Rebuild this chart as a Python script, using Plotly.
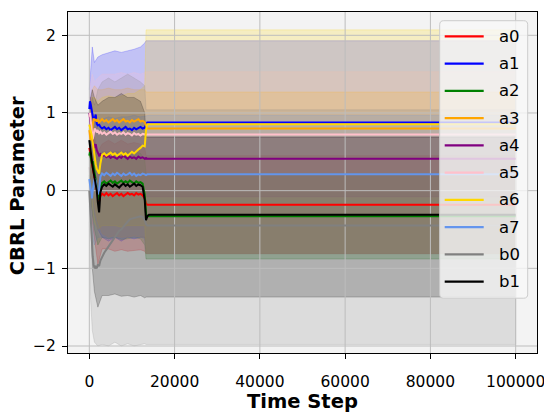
import plotly.graph_objects as go

# ---- data -------------------------------------------------------------
SERIES = ["a0", "a1", "a2", "a3", "a4", "a5", "a6", "a7", "b0", "b1"]
COLORS = ["#ff0000", "#0000ff", "#008000", "#ffa500", "#800080",
          "#ffc0cb", "#ffd700", "#6495ed", "#808080", "#000000"]

STEPS = [0, 150, 300, 450, 600, 800, 1000, 1250, 1500, 1750,
         2000, 2300, 2600, 3000, 3500, 4000, 4500, 5000, 5500, 6000,
         6500, 7000, 7500, 8000, 8500, 9000, 9500, 10000, 10500, 11000,
         11500, 12000, 12500, 13000, 13300, 13600, 14000, 100000]

A0_MEAN = [0.55, 0.50, 0.42, 0.38, 0.33, 0.28, 0.20, 0.16, 0.08, 0.02,
           -0.08, -0.14, -0.07, -0.04, -0.06, -0.03, -0.06, -0.04, -0.07, -0.05,
           -0.03, -0.06, -0.04, -0.07, -0.05, -0.03, -0.05, -0.04, -0.06, -0.03,
           -0.05, -0.04, -0.06, -0.10, -0.17, -0.18, -0.18, -0.18]
A1_MEAN = [1.05, 1.15, 1.12, 1.06, 1.00, 0.95, 0.90, 0.93, 0.98, 0.86,
           0.84, 0.85, 0.82, 0.80, 0.82, 0.79, 0.81, 0.78, 0.80, 0.82,
           0.79, 0.81, 0.78, 0.80, 0.82, 0.79, 0.80, 0.78, 0.81, 0.79,
           0.80, 0.82, 0.80, 0.81, 0.85, 0.878, 0.878, 0.878]
A2_MEAN = [0.45, 0.50, 0.44, 0.38, 0.35, 0.38, 0.30, 0.22, 0.12, 0.05,
           -0.04, -0.12, 0.04, 0.10, 0.12, 0.09, 0.11, 0.13, 0.10, 0.12,
           0.09, 0.11, 0.13, 0.10, 0.12, 0.10, 0.13, 0.11, 0.09, 0.12,
           0.10, 0.11, 0.09, -0.05, -0.30, -0.33, -0.33, -0.33]
A3_MEAN = [0.78, 0.70, 0.64, 0.68, 0.74, 0.86, 0.93, 0.90, 0.92, 0.89,
           0.91, 0.88, 0.90, 0.92, 0.89, 0.91, 0.88, 0.90, 0.92, 0.89,
           0.91, 0.88, 0.90, 0.92, 0.89, 0.90, 0.88, 0.91, 0.89, 0.90,
           0.92, 0.89, 0.90, 0.88, 0.83, 0.80, 0.80, 0.80]
A4_MEAN = [1.00, 0.95, 0.88, 0.78, 0.70, 0.62, 0.58, 0.55, 0.60, 0.52,
           0.48, 0.45, 0.47, 0.44, 0.46, 0.43, 0.45, 0.42, 0.44, 0.43,
           0.41, 0.44, 0.42, 0.45, 0.43, 0.41, 0.44, 0.42, 0.43, 0.41,
           0.44, 0.42, 0.43, 0.41, 0.42, 0.41, 0.41, 0.41]
A5_MEAN = [0.95, 1.00, 0.92, 0.85, 0.78, 0.66, 0.72, 0.80, 0.78, 0.75,
           0.77, 0.74, 0.76, 0.73, 0.75, 0.72, 0.74, 0.76, 0.73, 0.75,
           0.72, 0.74, 0.73, 0.75, 0.72, 0.74, 0.73, 0.71, 0.74, 0.72,
           0.73, 0.71, 0.73, 0.72, 0.72, 0.723, 0.723, 0.723]
A6_MEAN = [0.85, 0.82, 0.78, 0.74, 0.70, 0.62, 0.52, 0.43, 0.34, 0.28,
           0.25, 0.22, 0.35, 0.46, 0.48, 0.45, 0.47, 0.49, 0.46, 0.48,
           0.45, 0.47, 0.49, 0.46, 0.48, 0.45, 0.47, 0.50, 0.48, 0.51,
           0.53, 0.55, 0.58, 0.57, 0.78, 0.855, 0.855, 0.855]
A7_MEAN = [0.15, 0.10, 0.04, -0.05, -0.10, 0.00, 0.10, 0.16, 0.12, 0.05,
           -0.05, 0.00, 0.18, 0.22, 0.20, 0.23, 0.21, 0.19, 0.22, 0.20,
           0.23, 0.21, 0.19, 0.22, 0.20, 0.21, 0.23, 0.20, 0.22, 0.19,
           0.21, 0.20, 0.22, 0.21, 0.20, 0.21, 0.21, 0.21]
B0_MEAN = [0.00, -0.20, -0.40, -0.55, -0.70, -0.85, -0.95, -1.00, -0.98, -1.00,
           -0.95, -0.97, -0.90, -0.85, -0.80, -0.76, -0.72, -0.68, -0.64, -0.60,
           -0.57, -0.52, -0.50, -0.46, -0.43, -0.40, -0.37, -0.36, -0.35, -0.34,
           -0.34, -0.33, -0.34, -0.38, -0.43, -0.45, -0.45, -0.45]
B1_MEAN = [0.65, 0.56, 0.47, 0.42, 0.38, 0.30, 0.24, 0.16, 0.10, 0.00,
           -0.15, -0.28, -0.02, 0.05, 0.08, 0.06, 0.09, 0.07, 0.05, 0.08,
           0.06, 0.04, 0.07, 0.09, 0.06, 0.08, 0.05, 0.07, 0.09, 0.06,
           0.08, 0.07, 0.05, -0.12, -0.38, -0.33, -0.31, -0.31]

# spread bands (lower / upper bound) on a coarser step grid
BAND_STEPS = [0, 300, 700, 1200, 2000, 3000, 4500, 6000, 7500, 9000,
              10500, 12000, 13000, 13300, 14000, 100000]

A0_HI = [0.80, 0.90, 0.90, 0.70, 0.50, 0.60, 0.65, 0.60, 0.65, 0.60, 0.62, 0.60, 0.55, 0.45, 0.45, 0.45]
A0_LO = [0.30, 0.00, -0.40, -0.60, -0.95, -0.75, -0.75, -0.78, -0.76, -0.78, -0.77, -0.76, -0.78, -0.81, -0.81, -0.81]
A1_HI = [1.30, 1.60, 1.85, 1.65, 1.72, 1.75, 1.78, 1.80, 1.78, 1.80, 1.82, 1.85, 1.90, 1.93, 1.93, 1.93]
A1_LO = [0.80, 0.40, 0.00, -0.30, -0.50, -0.60, -0.65, -0.60, -0.65, -0.60, -0.62, -0.60, -0.60, -0.81, -0.81, -0.81]
A2_HI = [0.70, 0.80, 0.75, 0.60, 0.40, 0.50, 0.50, 0.50, 0.50, 0.50, 0.50, 0.48, 0.40, 0.22, 0.22, 0.22]
A2_LO = [0.20, -0.10, -0.30, -0.50, -0.70, -0.60, -0.62, -0.60, -0.63, -0.62, -0.60, -0.62, -0.70, -0.88, -0.88, -0.88]
A3_HI = [1.00, 1.10, 1.30, 1.35, 1.30, 1.30, 1.32, 1.30, 1.30, 1.32, 1.30, 1.30, 1.30, 1.27, 1.27, 1.27]
A3_LO = [0.50, 0.30, 0.10, -0.20, -0.40, -0.55, -0.60, -0.58, -0.60, -0.60, -0.58, -0.60, -0.60, -0.81, -0.81, -0.81]
A4_HI = [1.20, 1.20, 1.00, 0.90, 0.80, 0.75, 0.72, 0.72, 0.70, 0.72, 0.70, 0.70, 0.70, 0.69, 0.69, 0.69]
A4_LO = [0.80, 0.50, 0.30, 0.10, 0.00, -0.05, -0.06, -0.05, -0.06, -0.05, -0.06, -0.05, -0.06, -0.08, -0.08, -0.08]
A5_HI = [1.20, 1.40, 1.50, 1.40, 1.45, 1.50, 1.50, 1.50, 1.52, 1.50, 1.52, 1.50, 1.52, 1.53, 1.53, 1.53]
A5_LO = [0.70, 0.40, 0.00, -0.30, -0.50, -0.70, -0.75, -0.77, -0.75, -0.77, -0.76, -0.77, -0.75, -0.81, -0.81, -0.81]
A6_HI = [1.00, 1.10, 1.20, 1.20, 1.15, 1.20, 1.22, 1.20, 1.22, 1.25, 1.25, 1.30, 1.35, 2.07, 2.07, 2.07]
A6_LO = [0.60, 0.20, -0.20, -0.40, -0.50, -0.45, -0.45, -0.45, -0.47, -0.45, -0.45, -0.45, -0.45, -0.81, -0.81, -0.81]
A7_HI = [0.50, 0.70, 0.90, 0.95, 0.90, 0.92, 0.95, 0.93, 0.95, 0.95, 0.97, 0.95, 0.96, 0.97, 0.97, 0.97]
A7_LO = [-0.20, -0.40, -0.60, -0.70, -0.60, -0.60, -0.62, -0.60, -0.62, -0.60, -0.62, -0.60, -0.62, -0.81, -0.81, -0.81]
B0_HI = [0.40, 0.90, 1.20, 1.10, 1.30, 1.40, 1.45, 1.40, 1.45, 1.50, 1.45, 1.40, 1.35, 1.04, 1.04, 1.04]
B0_LO = [-0.40, -1.40, -1.80, -1.95, -2.00, -1.98, -2.00, -1.95, -2.00, -1.97, -2.00, -1.98, -1.97, -1.98, -1.98, -1.98]
B1_HI = [1.00, 1.20, 1.30, 1.20, 1.10, 1.15, 1.20, 1.20, 1.25, 1.20, 1.20, 1.15, 1.00, 0.69, 0.69, 0.69]
B1_LO = [0.30, -0.40, -1.00, -1.30, -1.50, -1.35, -1.35, -1.33, -1.36, -1.35, -1.37, -1.35, -1.38, -1.37, -1.37, -1.37]

X_TICKS = [0, 20000, 40000, 60000, 80000, 100000]
Y_TICKS = [-2, -1, 0, 1, 2]
X_RANGE = [-5000, 105000]
Y_RANGE = [-2.09, 2.30]

MEANS = [A0_MEAN, A1_MEAN, A2_MEAN, A3_MEAN, A4_MEAN, A5_MEAN, A6_MEAN, A7_MEAN, B0_MEAN, B1_MEAN]
HIS = [A0_HI, A1_HI, A2_HI, A3_HI, A4_HI, A5_HI, A6_HI, A7_HI, B0_HI, B1_HI]
LOS = [A0_LO, A1_LO, A2_LO, A3_LO, A4_LO, A5_LO, A6_LO, A7_LO, B0_LO, B1_LO]


def rgba(hex_color, alpha):
    h = hex_color.lstrip("#")
    r, g, b = int(h[0:2], 16), int(h[2:4], 16), int(h[4:6], 16)
    return f"rgba({r},{g},{b},{alpha})"


fig = go.Figure()

# shaded spread bands
for name, col, hi, lo in zip(SERIES, COLORS, HIS, LOS):
    fig.add_trace(go.Scatter(
        x=BAND_STEPS + BAND_STEPS[::-1],
        y=hi + lo[::-1],
        fill="toself",
        fillcolor=rgba(col, 0.2),
        line=dict(color=rgba(col, 0.2), width=1),
        mode="lines",
        hoverinfo="skip",
        showlegend=False,
    ))

# grid sits above the bands but under the mean lines
gx, gy = [], []
for t in X_TICKS:
    gx += [t, t, None]
    gy += [Y_RANGE[0], Y_RANGE[1], None]
for v in Y_TICKS:
    gx += [X_RANGE[0], X_RANGE[1], None]
    gy += [v, v, None]
fig.add_trace(go.Scatter(x=gx, y=gy, mode="lines",
                         line=dict(color="#bdbdbd", width=1),
                         hoverinfo="skip", showlegend=False))

# mean trajectories
for name, col, m in zip(SERIES, COLORS, MEANS):
    fig.add_trace(go.Scatter(
        x=STEPS, y=m, mode="lines", name=name,
        line=dict(color=col, width=2),
        showlegend=False,
    ))

# plot-area geometry in pixels
W, H = 544, 413
PL, PR, PT, PB = 68.3, 537.3, 12.3, 352.7


def fx(px):
    return (px - PL) / (PR - PL)


def fy(py):
    return (PB - py) / (PB - PT)


shapes = []
annotations = []

# legend box with rounded corners
bx0, bx1, by0, by1, rad = 440, 528, 21, 298, 4
path = (
    f"M {fx(bx0 + rad)} {fy(by0)} L {fx(bx1 - rad)} {fy(by0)} "
    f"Q {fx(bx1)} {fy(by0)} {fx(bx1)} {fy(by0 + rad)} "
    f"L {fx(bx1)} {fy(by1 - rad)} "
    f"Q {fx(bx1)} {fy(by1)} {fx(bx1 - rad)} {fy(by1)} "
    f"L {fx(bx0 + rad)} {fy(by1)} "
    f"Q {fx(bx0)} {fy(by1)} {fx(bx0)} {fy(by1 - rad)} "
    f"L {fx(bx0)} {fy(by0 + rad)} "
    f"Q {fx(bx0)} {fy(by0)} {fx(bx0 + rad)} {fy(by0)} Z"
)
shapes.append(dict(type="path", path=path, xref="paper", yref="paper",
                   fillcolor="rgba(248,248,248,0.8)",
                   line=dict(color="#cccccc", width=1), layer="above"))

for i, (name, col) in enumerate(zip(SERIES, COLORS)):
    yy = 36.7 + 27.2 * i
    shapes.append(dict(type="line", xref="paper", yref="paper",
                       x0=fx(445), x1=fx(484), y0=fy(yy), y1=fy(yy),
                       line=dict(color=col, width=2.2), layer="above"))
    annotations.append(dict(text=name, xref="paper", yref="paper",
                            x=fx(497), y=fy(yy), xanchor="left", yanchor="middle",
                            showarrow=False,
                            font=dict(family="DejaVu Sans", size=16.5, color="black")))

# axis titles
annotations.append(dict(text="Time Step", xref="paper", yref="paper",
                        x=0.5, y=fy(401), xanchor="center", yanchor="middle",
                        showarrow=False,
                        font=dict(family="DejaVu Sans", size=19.5, color="black", weight="bold")))
annotations.append(dict(text="CBRL Parameter", xref="paper", yref="paper",
                        x=fx(17.5), y=fy(186), xanchor="center", yanchor="middle",
                        textangle=-90, showarrow=False,
                        font=dict(family="DejaVu Sans", size=19.5, color="black", weight="bold")))

axis_common = dict(
    showgrid=False, zeroline=False, showline=True, linecolor="black",
    linewidth=1, mirror=True, ticks="outside", ticklen=5, tickwidth=1,
    tickcolor="black", automargin=False, ticklabeloverflow="allow",
    tickfont=dict(family="DejaVu Sans", size=15.5, color="black"),
)

fig.update_layout(
    template="none",
    width=W, height=H,
    margin=dict(l=PL, r=W - PR, t=PT, b=H - PB, pad=0),
    paper_bgcolor="white",
    plot_bgcolor="#f3f3f3",
    showlegend=False,
    hovermode=False,
    shapes=shapes,
    annotations=annotations,
    xaxis=dict(range=X_RANGE, tickvals=X_TICKS, ticklabelstandoff=9,
               ticktext=[str(t) for t in X_TICKS], **axis_common),
    yaxis=dict(range=Y_RANGE, tickvals=Y_TICKS, ticklabelstandoff=3,
               ticktext=[f"{v}".replace("-", "\u2212") for v in Y_TICKS], **axis_common),
)

fig.write_html("out.html", config={"displayModeBar": False})
